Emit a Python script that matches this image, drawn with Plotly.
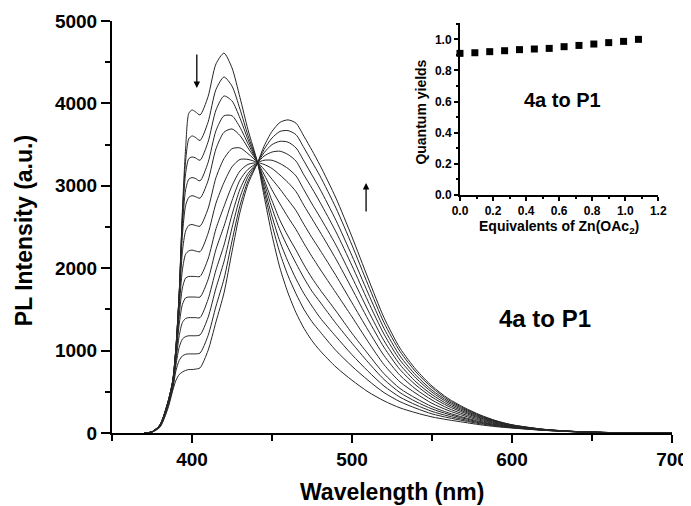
import plotly.graph_objects as go

# ---------------- data ----------------
wavelength = [370, 375, 380, 385, 388, 390, 392, 394, 396, 398,
              400, 402, 405, 410, 415, 420, 425, 430, 435, 441,
              445, 450, 455, 460, 465, 470, 475, 480,
              490, 500, 510, 520, 530, 540, 550, 560, 570, 580, 590, 600,
              620, 640, 660, 680, 700]

pl_00 = [0, 15, 100, 380, 640, 1050, 1700, 2700, 3450, 3880,
         3920, 3900, 3860, 4080, 4480, 4610, 4430, 4070, 3680, 3280,
         2880, 2400, 2000, 1700, 1460, 1270, 1120, 1000,
         800, 640, 500, 390, 305, 245, 195, 160, 130, 100, 77, 60,
         32, 14, 5, 0, 0]
pl_01 = [0, 15, 100, 380, 640, 1050, 1700, 2650, 3300, 3570,
         3605, 3590, 3550, 3770, 4170, 4320, 4210, 3930, 3610, 3280,
         2940, 2530, 2180, 1910, 1690, 1500, 1350, 1230,
         1000, 810, 640, 490, 380, 300, 232, 186, 148, 112, 84, 64,
         33, 14, 5, 0, 0]
pl_02 = [0, 15, 100, 380, 640, 1050, 1690, 2600, 3150, 3330,
         3350, 3340, 3310, 3530, 3920, 4090, 4030, 3820, 3560, 3280,
         2990, 2630, 2320, 2080, 1870, 1690, 1540, 1400,
         1170, 950, 750, 570, 435, 340, 262, 207, 162, 122, 90, 67,
         34, 15, 5, 0, 0]
pl_03 = [0, 15, 100, 375, 635, 1040, 1680, 2500, 2950, 3080,
         3100, 3090, 3060, 3280, 3670, 3850, 3850, 3710, 3510, 3280,
         3040, 2730, 2460, 2250, 2060, 1880, 1720, 1590,
         1330, 1090, 860, 650, 490, 380, 292, 228, 177, 131, 96, 70,
         35, 15, 5, 0, 0]
pl_04 = [0, 15, 98, 372, 630, 1030, 1660, 2400, 2760, 2860,
         2880, 2870, 2850, 3060, 3450, 3650, 3690, 3610, 3460, 3280,
         3080, 2820, 2580, 2390, 2220, 2040, 1880, 1740,
         1480, 1210, 960, 720, 540, 420, 320, 246, 189, 140, 101, 73,
         36, 15, 5, 0, 0]
pl_05 = [0, 14, 96, 368, 620, 1010, 1600, 2200, 2450, 2520,
         2530, 2520, 2510, 2720, 3100, 3330, 3450, 3460, 3390, 3280,
         3140, 2950, 2780, 2620, 2470, 2300, 2140, 1990,
         1700, 1410, 1110, 830, 620, 480, 360, 274, 209, 153, 109, 78,
         38, 16, 5, 0, 0]
pl_06 = [0, 14, 94, 364, 610, 990, 1520, 1980, 2170, 2210,
         2220, 2210, 2200, 2420, 2790, 3040, 3230, 3320, 3320, 3280,
         3200, 3080, 2960, 2830, 2700, 2530, 2370, 2220,
         1910, 1580, 1250, 940, 700, 530, 400, 300, 227, 165, 116, 82,
         39, 16, 6, 0, 0]
pl_07 = [0, 13, 92, 358, 600, 960, 1420, 1760, 1880, 1900,
         1900, 1900, 1900, 2110, 2480, 2750, 3000, 3180, 3260, 3280,
         3260, 3210, 3130, 3040, 2930, 2760, 2600, 2440,
         2110, 1750, 1380, 1040, 770, 580, 435, 326, 245, 177, 124, 86,
         40, 17, 6, 0, 0]
pl_08 = [0, 13, 90, 352, 590, 930, 1320, 1560, 1640, 1650,
         1650, 1650, 1650, 1860, 2230, 2510, 2820, 3070, 3200, 3280,
         3310, 3310, 3270, 3210, 3120, 2950, 2780, 2620,
         2280, 1890, 1490, 1120, 830, 620, 465, 347, 260, 186, 130, 89,
         41, 17, 6, 0, 0]
pl_09 = [0, 12, 86, 345, 575, 880, 1180, 1340, 1390, 1400,
         1400, 1400, 1400, 1620, 1980, 2280, 2650, 2960, 3150, 3280,
         3360, 3410, 3420, 3380, 3300, 3130, 2970, 2800,
         2440, 2030, 1600, 1200, 885, 665, 495, 368, 274, 196, 135, 92,
         42, 17, 6, 0, 0]
pl_10 = [0, 12, 82, 335, 560, 830, 1040, 1140, 1170, 1180,
         1180, 1180, 1190, 1400, 1760, 2080, 2490, 2860, 3110, 3280,
         3400, 3500, 3540, 3530, 3460, 3300, 3130, 2960,
         2580, 2150, 1700, 1270, 935, 700, 520, 386, 287, 204, 140, 95,
         43, 18, 6, 0, 0]
pl_11 = [0, 11, 76, 320, 540, 760, 880, 935, 955, 960,
         960, 960, 970, 1180, 1540, 1870, 2330, 2760, 3060, 3280,
         3440, 3580, 3660, 3670, 3620, 3460, 3290, 3120,
         2730, 2280, 1800, 1340, 990, 740, 550, 404, 299, 213, 146, 98,
         44, 18, 6, 0, 0]
pl_12 = [0, 10, 70, 300, 520, 640, 710, 740, 760, 770,
         770, 775, 790, 1000, 1350, 1700, 2200, 2680, 3020, 3280,
         3480, 3660, 3770, 3800, 3760, 3600, 3430, 3250,
         2850, 2380, 1880, 1400, 1030, 770, 570, 420, 310, 220, 150, 100,
         45, 18, 6, 0, 0]

spectra = [pl_00, pl_01, pl_02, pl_03, pl_04, pl_05, pl_06,
           pl_07, pl_08, pl_09, pl_10, pl_11, pl_12]

equivalents = [0.0, 0.09, 0.18, 0.27, 0.36, 0.45, 0.54, 0.63, 0.72, 0.81, 0.90, 0.99, 1.08]
quantum_yield = [0.910, 0.914, 0.921, 0.927, 0.934, 0.938, 0.942, 0.953,
                 0.961, 0.970, 0.979, 0.987, 1.000]

main_ticks = [0, 1000, 2000, 3000, 4000, 5000]

# ---------------- figure ----------------
FONT = "Liberation Sans, Arial, sans-serif"
fig = go.Figure()

for s in spectra:
    fig.add_trace(go.Scatter(
        x=wavelength, y=s, mode="lines",
        line=dict(color="#262626", width=1, shape="spline", smoothing=0.7),
        showlegend=False, hoverinfo="skip", xaxis="x", yaxis="y"))

fig.add_trace(go.Scatter(
    x=equivalents, y=quantum_yield, mode="markers",
    marker=dict(symbol="square", size=7, color="black"),
    showlegend=False, cliponaxis=False, xaxis="x2", yaxis="y2"))

axis_common = dict(showgrid=False, zeroline=False, showline=True,
                   linecolor="black", ticks="outside", tickcolor="black")

# the page body adds an 8 px offset, so the figure is sized 8 px smaller
fig.update_layout(
    width=683, height=498,
    paper_bgcolor="white", plot_bgcolor="white",
    margin=dict(l=104, r=19, t=13, b=73, autoexpand=False),
    font=dict(family=FONT, color="black"),
    xaxis=dict(**axis_common, domain=[0, 1], range=[350, 700],
               linewidth=2, tickwidth=2, ticklen=8,
               tickmode="array", tickvals=[400, 500, 600, 700],
               tickfont=dict(size=19, weight="bold", family=FONT),
               minor=dict(tickmode="array", tickvals=[350, 450, 550, 650],
                          ticks="outside", ticklen=6, tickwidth=2, tickcolor="black"),
               anchor="y"),
    yaxis=dict(**axis_common, domain=[0, 1], range=[0, 5000],
               linewidth=2, tickwidth=2, ticklen=9,
               tickmode="array", tickvals=main_ticks,
               tickfont=dict(size=19, weight="bold", family=FONT),
               minor=dict(tickmode="array", tickvals=[500, 1500, 2500, 3500, 4500],
                          ticks="outside", ticklen=5, tickwidth=2, tickcolor="black"),
               anchor="x"),
    xaxis2=dict(**axis_common, domain=[0.6214, 0.9755], range=[0, 1.2],
                linewidth=2, tickwidth=1.5, ticklen=4,
                dtick=0.2, tick0=0, tickformat=".1f",
                tickfont=dict(size=12, weight="bold", family=FONT),
                minor=dict(dtick=0.1, ticks="outside", ticklen=2, tickwidth=1.5, tickcolor="black"),
                anchor="y2"),
    yaxis2=dict(**axis_common, domain=[0.5777, 0.9951], range=[0, 1.105],
                linewidth=2, tickwidth=1.5, ticklen=4,
                dtick=0.2, tick0=0, tickformat=".1f",
                tickfont=dict(size=12, weight="bold", family=FONT),
                minor=dict(dtick=0.1, ticks="outside", ticklen=2, tickwidth=1.5, tickcolor="black"),
                anchor="x2"),
)

bold = lambda size: dict(family=FONT, size=size, color="black", weight="bold")

annotations = [
    dict(text="PL Intensity (a.u.)", xref="paper", yref="paper",
         x=-0.157, y=0.49, textangle=-90, showarrow=False, font=bold(23),
         xanchor="center", yanchor="middle"),
    dict(text="Wavelength (nm)", xref="paper", yref="paper",
         x=0.5, y=-0.143, showarrow=False, font=bold(23),
         xanchor="center", yanchor="middle"),
    dict(text="4a to P1", xref="paper", yref="paper",
         x=0.773, y=0.277, showarrow=False, font=bold(24),
         xanchor="center", yanchor="middle"),
    dict(text="4a to P1", xref="paper", yref="paper",
         x=0.805, y=0.808, showarrow=False, font=bold(20),
         xanchor="center", yanchor="middle"),
    dict(text="Quantum yields", xref="paper", yref="paper",
         x=0.551, y=0.779, textangle=-90, showarrow=False, font=bold(14),
         xanchor="center", yanchor="middle"),
    dict(text="Equivalents of Zn(OAc<sub>2</sub>)", xref="paper", yref="paper",
         x=0.799, y=0.50, showarrow=False, font=bold(14),
         xanchor="center", yanchor="middle"),
    # down arrow (decreasing 4a band)
    dict(x=403, y=4187, xref="x", yref="y", ax=0, ay=-35, text="",
         showarrow=True, arrowhead=2, arrowsize=1, arrowwidth=1.3, arrowcolor="black"),
    # up arrow (increasing P1 band)
    dict(x=508.8, y=3034, xref="x", yref="y", ax=0, ay=30, text="",
         showarrow=True, arrowhead=2, arrowsize=1, arrowwidth=1.3, arrowcolor="black"),
]
fig.update_layout(annotations=annotations)

fig.write_html("out.html")
